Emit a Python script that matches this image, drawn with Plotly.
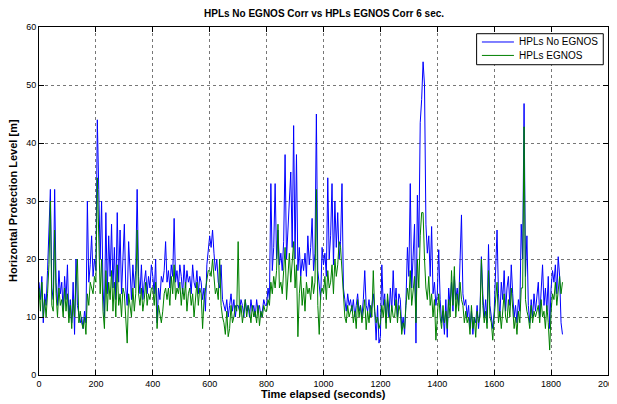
import plotly.graph_objects as go

hpl_no_egnos = [
    16,13,17,9,14,12,18,25,32,15,
    13,32,16,12,18,14,16,11,17,13,
    19,10,13,9,16,7,20,12,10,9,
    10,8,11,9,30,16,19,24,17,20,
    18,44,32,20,30,15,10,28,14,24,
    17,26,15,22,13,28,16,25,14,20,
    26,15,12,23,17,13,19,15,18,32,
    17,14,19,13,16,18,14,17,15,19,
    17,14,20,9,15,13,17,16,18,23,
    16,18,15,19,17,27,16,18,15,19,
    17,14,19,15,18,16,17,14,19,16,
    15,18,14,17,16,13,15,11,19,22,
    24,22,25,21,18,20,16,15,19,13,
    12,11,13,10,12,14,11,13,10,12,
    12,11,13,12,10,13,11,12,10,13,
    11,12,10,13,11,12,10,11,13,12,
    12,15,13,33,18,22,33,20,25,19,
    21,18,23,38,20,26,31,35,22,43,
    20,38,18,22,17,20,18,21,17,24,
    19,22,27,18,21,45,18,16,13,22,
    19,21,17,34,20,24,33,19,30,22,
    28,20,23,33,15,13,11,14,12,13,
    11,13,10,12,14,11,12,10,13,18,
    12,11,13,10,12,14,11,6,12,5.5,
    6.6,19,12,14,9,13,10,15,11,18,
    12,15,10,14,13,8,10,7,13,22,
    17,33,15,20,26,5.5,31,22,43.5,47.5,
    54,50,26,21,24,17,25.6,14,16,12,
    14,21.6,13,9,11,7,13,6.5,15,12,
    16,11,17,13,15,12,20,27.6,14,12,
    13,10,12,8,11,7,10,9,12,8,
    11,20.4,14,10,13,9,22.5,12,10,8,
    11,17,25,14,10,16,13,18,11,15,
    17,12,19,14,10,12,9,13,11,26,
    20,46.8,17,24,12,9,13,10,14,11,
    13,16,10,14,19,12,15,11,17,8,
    15,18,16,19,14,20.4,17,9,7,
]

hpl_egnos = [
    15,11,16,10,13,10,14,19,30,12,
    11,25,14,10,15,12,13,10,15,11,
    14,9,12,8,13,10,16,20,9,11,
    9,8,10,7,14,12,16,15,14,17,
    16,34,24,14,20,11,8,18,11,16,
    13,18,11,16,10,19,12,14,10,15,
    14,10,5.5,14,12,10,15,11,14,25,
    14,12,15,11,13,16,12,14,13,15,
    15,12,16,8,12,10,9,11,14,15,
    13,15,12,17,14,19,13,15,14,16,
    12,15,13,16,11,14,15,12,14,10,
    13,16,12,15,14,8,13,15,17,18,
    18,17,20,16,14,15,13,20,12,10,
    9,7,11,6.6,8,12,9,10,12,11,
    23,10,12,9,11,13,10,12,11,9,
    12,10,11,9,12,8.5,11,10,12,11,
    11,13,12,16,14,17,15,18,26,15,
    16,14,18,22,13,17,21,16,19,23,
    15,19,6.6,14,17,12,15,11,16,14,
    15,13,17,14,16,32,12,7,14,15,
    14,17,13,18,15,16,19,14,20,17,
    19,23,22,18,12,10,9,12,10,11,
    12,9,11,8,13,10,12,9,11,13,
    7.8,11,9,12,10,18,11,9,10,8,
    9,12,10,13,8,14,11,9,12,10,
    10,13,9,12,11,7,9,8,12,15,
    13,18,12,14,17,9,20,15,24,28,
    28,20,15,13,17,12,14,10,13,6,
    11,14,10,8,12,9,11,8,13,10,
    18,12,18.7,10,14,11,16,13,12,9,
    11,9,10,7,12,8,10,6.5,11,9,
    10,20,12,9,11,8,18,10,9,6,
    10,13,16,9,11,8,12,14,10,9,
    13,10,15,11,8,10,7,11,9,15,
    15,42.8,13,11,10,8,12,9,11,10,
    11,12,9,13,10,11,8,12,9,4.3,
    11,14,13,16,12,15,17,14,16,
]

sample_step = 5
time_s = [i * sample_step for i in range(len(hpl_no_egnos))]

x_ticks = list(range(0, 2001, 200))
y_ticks = list(range(0, 61, 10))
series_names = ["HPLs No EGNOS", "HPLs EGNOS"]
series_colors = ["#0000ff", "#008000"]

FONT = "Liberation Sans, Arial, sans-serif"

fig = go.Figure()
for name, vals, col in zip(series_names, [hpl_no_egnos, hpl_egnos], series_colors):
    fig.add_trace(go.Scatter(x=time_s, y=vals, mode="lines", name=name,
                             line=dict(color=col, width=1), showlegend=False))

axis_common = dict(
    showline=True, linecolor="black", linewidth=1, mirror="ticks",
    ticks="inside", ticklen=5, tickcolor="black", tickwidth=1,
    showgrid=True, gridcolor="#777777", griddash="dot", gridwidth=1,
    zeroline=False, automargin=False,
    tickfont=dict(family=FONT, size=9, color="black"),
)

# MATLAB-style legend box drawn in paper coordinates
shapes = [dict(type="rect", xref="paper", yref="paper", x0=0.7691, x1=0.9917,
               y0=0.8916, y1=0.9807, line=dict(color="black", width=1),
               fillcolor="white", layer="above")]
annotations = []
for name, col, ly in zip(series_names, series_colors, [0.9569, 0.9183]):
    shapes.append(dict(type="line", xref="paper", yref="paper", x0=0.7784, x1=0.8347,
                       y0=ly, y1=ly, line=dict(color=col, width=1), layer="above"))
    annotations.append(dict(text=name, xref="paper", yref="paper", x=0.8405, y=ly,
                            xanchor="left", yanchor="middle", showarrow=False,
                            font=dict(family=FONT, size=10, color="black")))

annotations += [
    dict(text="<b>HPLs No EGNOS Corr vs HPLs EGNOS Corr 6 sec.</b>", xref="paper", yref="paper",
         x=0.5, y=1, yshift=14, showarrow=False, xanchor="center", yanchor="middle",
         font=dict(family=FONT, size=10, color="black")),
    dict(text="<b>Time elapsed (seconds)</b>", xref="paper", yref="paper",
         x=0.5, y=0, yshift=-19, showarrow=False, xanchor="center", yanchor="middle",
         font=dict(family=FONT, size=11, color="black")),
    dict(text="<b>Horizontal Protection Level [m]</b>", xref="paper", yref="paper",
         x=0, y=0.5, xshift=-26, showarrow=False, xanchor="center", yanchor="middle",
         textangle=-90, font=dict(family=FONT, size=11, color="black")),
]

fig.update_layout(
    width=617, height=396,
    paper_bgcolor="white", plot_bgcolor="white",
    margin=dict(l=31, r=17, t=19, b=29),
    showlegend=False,
    xaxis=dict(range=[0, 2000], tickvals=x_ticks, **axis_common),
    yaxis=dict(range=[0, 60], tickvals=y_ticks, **axis_common),
    shapes=shapes,
    annotations=annotations,
)

fig.write_html("out.html")
